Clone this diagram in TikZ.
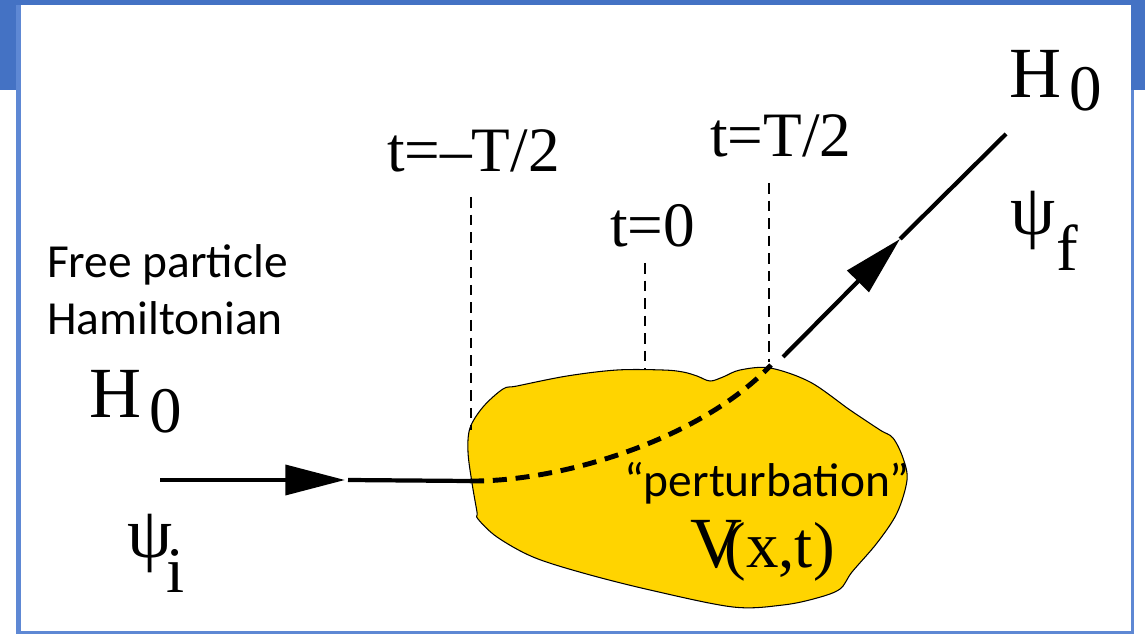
\documentclass[tikz,border=0pt]{standalone}
\usepackage{fontspec}
\setmainfont{Liberation Serif}
\newfontfamily\calibri{Carlito}
\usetikzlibrary{arrows.meta}

\definecolor{slideblue}{HTML}{4472C4}
\definecolor{edgeblue}{HTML}{5E88D4}
\definecolor{blobyellow}{HTML}{FFD400}

% lowered subscript at nearly full size
\newcommand{\lowsub}[2]{\raisebox{-#1}{\fontsize{37}{37}\selectfont #2}}

\begin{document}
\begin{tikzpicture}[x=0.02cm,y=-0.02cm,line width=2.4pt,
  >={Triangle[length=34pt,width=17pt]},
  big/.style={inner sep=0pt,font=\fontsize{41}{41}\selectfont},
  tlab/.style={inner sep=0pt,font=\fontsize{36}{36}\selectfont},
  note/.style={inner sep=0pt,font=\calibri\fontsize{27}{30}\selectfont},
  guide/.style={line width=0.6pt,dash pattern=on 6pt off 4pt},
  path/.style={line width=2.8pt,dash pattern=on 8pt off 5pt}]
\useasboundingbox (0,0) rectangle (1145,634);
% slide frame
\fill[slideblue] (0,0) rectangle (1145,5);
\fill[slideblue] (0,0) rectangle (17,90);
\fill[slideblue] (1131,0) rectangle (1145,90);
\fill[edgeblue] (16,5) rectangle (21,634);
\fill[edgeblue] (1131,90) rectangle (1134,634);
\fill[edgeblue] (16,631) rectangle (1134,634);
% the perturbing potential (yellow blob)
\draw[line width=0.6pt,fill=blobyellow] plot[smooth cycle,tension=0.55] coordinates {
  (470,428) (468,452) (472,483) (477,512) (478,519) (497,537) (533,557)
  (583,573) (650,590) (733,607) (783,605) (817,598) (840,589) (852,572)
  (877,543) (897,513) (907,480) (903,458) (893,438) (880,430) (850,410)
  (810,382) (770,368) (740,370) (723,377) (710,381) (697,376) (683,372)
  (663,370) (617,370) (567,376) (517,386) (503,389) (483,407)};
% time markers
\node[tlab,anchor=base west] (tm) at (385,172) {t=–T/2};
\node[tlab,anchor=base west] (tz) at (608,247) {t=0};
\node[tlab,anchor=base west] (tp) at (708,157) {t=T/2};
\coordinate (tm1) at (471,197); \coordinate (tm2) at (471,430);
\coordinate (tz1) at (645,263); \coordinate (tz2) at (645,370);
\coordinate (tp1) at (769,183); \coordinate (tp2) at (769,362);
\draw[guide] (tm1) -- (tm2);
\draw[guide] (tz1) -- (tz2);
\draw[guide] (tp1) -- (tp2);
% incoming free particle
\node[note,anchor=base west] (free) at (45,278) {Free particle};
\node[note,anchor=base west] (ham) at (45,335) {Hamiltonian};
\node[big,anchor=base west] (hin) at (87,418) {H\hspace{5pt}\lowsub{8pt}{0}};
\node[big,anchor=base west] (psii) at (125,557) {ψ\kern-3pt\lowsub{20pt}{i}};
\coordinate (start) at (160,480);
\coordinate (tipin) at (345,480);
\coordinate (tipin2) at (348,480);
\coordinate (enter) at (470,481);
\draw[->] (start) -- (tipin);
\draw (tipin2) -- (enter);
% path through the potential
\coordinate (exit) at (771,365);
\draw[path] (enter) .. controls (560,482) and (700,440) .. (exit);
\node[note,anchor=base west] (pert) at (622,496) {“perturbation”};
\node[big,anchor=base west] (vxt) at (688,567) {V\kern-10pt\fontsize{37}{37}\selectfont(x,t)};
% outgoing free particle
\coordinate (outstart) at (783,357);
\coordinate (tipout) at (900,239);
\coordinate (outend) at (1006,134);
\draw[->] (outstart) -- (tipout);
\draw (tipout) -- (outend);
\node[big,anchor=base west] (hout) at (1007,98) {H\hspace{5pt}\lowsub{7pt}{0}};
\node[big,anchor=base west] (psif) at (1008,235) {ψ\kern1pt\lowsub{20pt}{f}};
\end{tikzpicture}
\end{document}
